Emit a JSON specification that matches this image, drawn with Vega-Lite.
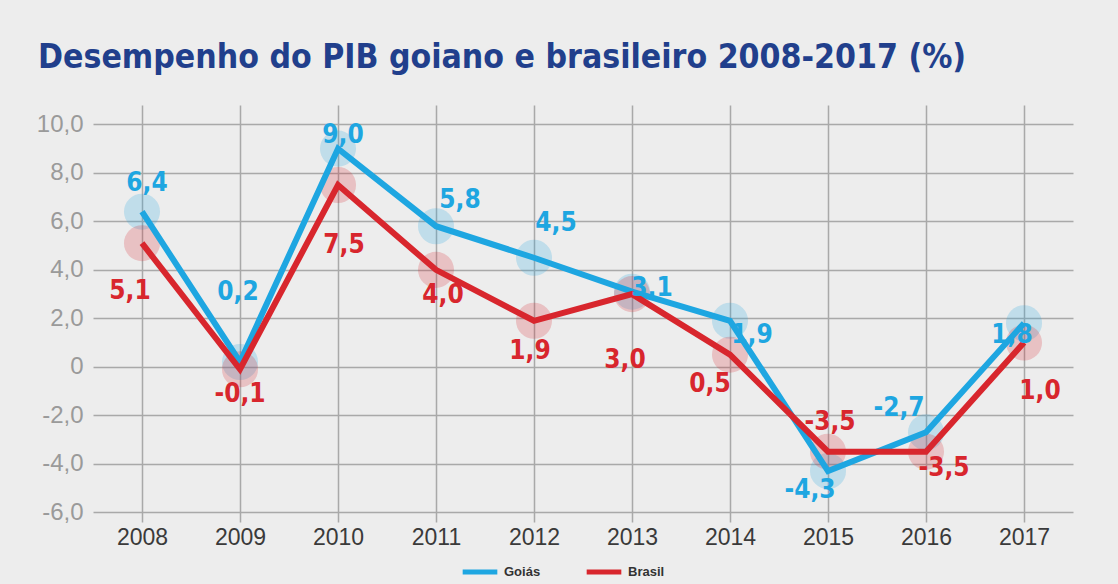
{
  "$schema": "https://vega.github.io/schema/vega-lite/v6.json",
  "width": 980,
  "height": 417,
  "autosize": {"type": "none"},
  "padding": {"left": 93, "top": 105, "right": 45, "bottom": 62},
  "background": "#ededed",
  "title": {
    "text": "Desempenho do PIB goiano  e brasileiro 2008-2017 (%)",
    "anchor": "start",
    "frame": "group",
    "dx": -55,
    "offset": 30,
    "font": "DejaVu Sans Condensed, sans-serif",
    "fontSize": 33.5,
    "fontWeight": "bold",
    "color": "#213f8c"
  },
  "config": {
    "view": {"stroke": null},
    "axis": {"gridColor": "#a9a9a9", "gridWidth": 1.5, "gridOpacity": 1}
  },
  "data": {
    "values": [
      {"year": "2008", "series": "Goiás", "value": 6.4},
      {"year": "2009", "series": "Goiás", "value": 0.2},
      {"year": "2010", "series": "Goiás", "value": 9.0},
      {"year": "2011", "series": "Goiás", "value": 5.8},
      {"year": "2012", "series": "Goiás", "value": 4.5},
      {"year": "2013", "series": "Goiás", "value": 3.1},
      {"year": "2014", "series": "Goiás", "value": 1.9},
      {"year": "2015", "series": "Goiás", "value": -4.3},
      {"year": "2016", "series": "Goiás", "value": -2.7},
      {"year": "2017", "series": "Goiás", "value": 1.8},
      {"year": "2008", "series": "Brasil", "value": 5.1},
      {"year": "2009", "series": "Brasil", "value": -0.1},
      {"year": "2010", "series": "Brasil", "value": 7.5},
      {"year": "2011", "series": "Brasil", "value": 4.0},
      {"year": "2012", "series": "Brasil", "value": 1.9},
      {"year": "2013", "series": "Brasil", "value": 3.0},
      {"year": "2014", "series": "Brasil", "value": 0.5},
      {"year": "2015", "series": "Brasil", "value": -3.5},
      {"year": "2016", "series": "Brasil", "value": -3.5},
      {"year": "2017", "series": "Brasil", "value": 1.0}
    ]
  },
  "transform": [
    {"calculate": "replace(replace(format(datum.value, '.1f'), '.', ','), '\u2212', '-')", "as": "label"}
  ],
  "encoding": {
    "x": {
      "field": "year",
      "type": "ordinal",
      "scale": {"type": "point", "padding": 0.5},
      "axis": {
        "title": null,
        "domain": false,
        "ticks": false,
        "grid": true,
        "labelAngle": 0,
        "labelFont": "Liberation Sans, Arial, sans-serif",
        "labelFontSize": 23,
        "labelColor": "#3a3a3a",
        "labelPadding": 4
      }
    },
    "y": {
      "field": "value",
      "type": "quantitative",
      "scale": {"domain": [-6.4, 10.8], "nice": false, "zero": false},
      "axis": {
        "title": null,
        "domain": false,
        "ticks": false,
        "values": [-6, -4, -2, 0, 2, 4, 6, 8, 10],
        "labelExpr": "datum.value == 0 ? '0' : replace(replace(format(datum.value, '.1f'), '.', ','), '\u2212', '-')",
        "labelFont": "Liberation Sans, Arial, sans-serif",
        "labelFontSize": 24,
        "labelColor": "#9a9a9a",
        "labelPadding": 10
      }
    },
    "color": {
      "field": "series",
      "type": "nominal",
      "scale": {"domain": ["Goiás", "Brasil"], "range": ["#1ea6e1", "#d8262d"]},
      "legend": {
        "title": null,
        "orient": "none",
        "legendX": 367,
        "legendY": 447,
        "direction": "horizontal",
        "symbolType": "stroke",
        "symbolSize": 1200,
        "symbolStrokeWidth": 5,
        "symbolOpacity": 1,
        "labelFontSize": 13,
        "labelFontWeight": "bold",
        "labelColor": "#333333",
        "labelFont": "Liberation Sans, Arial, sans-serif",
        "columnPadding": 35
      }
    }
  },
  "layer": [
    {
      "mark": {"type": "point", "filled": true, "size": 1300, "opacity": 0.22}
    },
    {
      "mark": {"type": "line", "strokeWidth": 6}
    },
    {
      "transform": [{"filter": "datum.series == 'Goiás'"}],
      "mark": {
        "type": "text",
        "font": "DejaVu Sans Condensed, sans-serif",
        "fontWeight": "bold",
        "fontSize": 26,
        "baseline": "middle",
        "dx": {"expr": "[5,-2,5,24,22,20,22,-18,-27,-12][toNumber(datum.year)-2008]"},
        "dy": {"expr": "[-29,-70,-14,-26,-35,-4,14,19,-24,12][toNumber(datum.year)-2008]"}
      },
      "encoding": {"text": {"field": "label"}}
    },
    {
      "transform": [{"filter": "datum.series == 'Brasil'"}],
      "mark": {
        "type": "text",
        "font": "DejaVu Sans Condensed, sans-serif",
        "fontWeight": "bold",
        "fontSize": 26,
        "baseline": "middle",
        "dx": {"expr": "[-12,0,6,7,-4,-7,-20,2,18,16][toNumber(datum.year)-2008]"},
        "dy": {"expr": "[48,25,60,25,30,66,29,-30,16,48][toNumber(datum.year)-2008]"}
      },
      "encoding": {"text": {"field": "label"}}
    }
  ]
}
